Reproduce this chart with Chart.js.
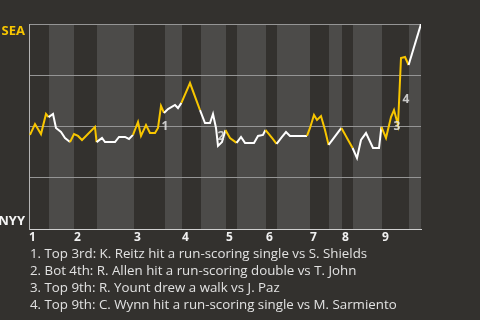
<!DOCTYPE html>
<html>
<head>
<meta charset="utf-8">
<script src="https://cdn.jsdelivr.net/npm/chart.js@4/dist/chart.umd.min.js"></script>
<style>
  html, body { margin:0; padding:0; background:#33312e; width:480px; height:320px; overflow:hidden; }
  #wrap { position:absolute; left:0; top:0; width:480px; height:245px; }
  #notes { position:absolute; left:30px; top:245px; color:#e2e2e2; font-family:"Open Sans", sans-serif; line-height:17px; white-space:nowrap; }
</style>
</head>
<body>
<div id="wrap"><canvas id="c"></canvas></div>
<div id="notes"></div>
<script>
// ---- data ----
const teams = ['NYY', 'SEA'];                 // bottom, top of y axis
const inningLabels = ['1','2','3','4','5','6','7','8','9'];
// half-inning start positions (play index): top1, bot1, top2, bot2, ...
const halfStarts = [0, 5, 11.25, 17, 26.25, 34, 38.25, 43, 49.25, 52, 59.25, 62, 70.25, 75, 78.25, 81, 88.25, 95];
const gameEnd = 98;
// play index and SEA win probability
const playX = [0.25, 1.5, 3, 4.25, 4.9, 6, 6.75, 8, 9, 10.25, 11.25, 12.25, 13.25, 16.5, 16.9, 18.25, 19, 21.5, 22.5, 24, 25, 26,
  27.25, 28, 29.25, 30.25, 31.5, 32.25, 33, 33.75, 34.75, 36.5, 37.25, 38.1, 40.25, 42.75, 44, 45.25, 46, 46.75, 47.25, 48.25,
  49.1, 50.25, 51.9, 53, 54, 56.25, 57.25, 58.5, 59.1, 60.75, 61.9, 63.25, 64.25, 65.25, 69.5, 70.25, 71.25, 72, 73, 74, 74.9,
  78.1, 80.9, 82, 83, 84.25, 86, 87.5, 88.1, 89.25, 90.5, 91.25, 92.25, 93, 94, 94.9, 98];
const seaWinProb = [0.459, 0.512, 0.463, 0.561, 0.546, 0.561, 0.493, 0.473, 0.444, 0.424, 0.463, 0.454, 0.434, 0.498, 0.424, 0.444, 0.424, 0.424, 0.449, 0.449, 0.439, 0.459,
  0.522, 0.454, 0.507, 0.468, 0.468, 0.493, 0.600, 0.566, 0.585, 0.605, 0.590, 0.615, 0.712, 0.580, 0.517, 0.517, 0.561, 0.493, 0.405, 0.424,
  0.483, 0.444, 0.420, 0.449, 0.420, 0.420, 0.454, 0.459, 0.483, 0.444, 0.415, 0.449, 0.473, 0.454, 0.454, 0.493, 0.556, 0.532, 0.551, 0.483, 0.410,
  0.493, 0.395, 0.346, 0.434, 0.468, 0.395, 0.395, 0.498, 0.444, 0.546, 0.580, 0.507, 0.834, 0.839, 0.800, 1.0];
// key-play markers: number, position
const markerNums = ['1', '2', '3', '4'];
const markerX = [34, 48, 92, 94.25];
const markerY = [0.502, 0.449, 0.502, 0.629];
const notes = [
  '1. Top 3rd: K. Reitz hit a run-scoring single vs S. Shields',
  '2. Bot 4th: R. Allen hit a run-scoring double vs T. John',
  '3. Top 9th: R. Yount drew a walk vs J. Paz',
  '4. Top 9th: C. Wynn hit a run-scoring single vs M. Sarmiento'
];

// ---- styles ----
const BG = '#33312e', BAND = '#4c4b49', YELLOW = '#f8c600', WHITE = '#ffffff';
const FONT = '"Open Sans", sans-serif';

function halfIndex(x) {
  let h = 0;
  for (let i = 0; i < halfStarts.length; i++) if (x >= halfStarts[i]) h = i;
  return h;
}

const bandsPlugin = {
  id: 'bands',
  beforeDraw(chart) {
    const {ctx, chartArea: a, scales: {x}} = chart;
    ctx.save();
    ctx.fillStyle = BG;
    ctx.fillRect(0, 0, chart.width, chart.height);
    for (let i = 0; i < halfStarts.length; i++) {
      const x0 = x.getPixelForValue(halfStarts[i]);
      const x1 = x.getPixelForValue(i + 1 < halfStarts.length ? halfStarts[i + 1] : gameEnd);
      ctx.fillStyle = (i % 2 === 1) ? BAND : BG;
      ctx.fillRect(x0, a.top, x1 - x0, a.bottom - a.top);
    }
    ctx.restore();
  },
  afterDraw(chart) {
    const {ctx, scales: {x, y}} = chart;
    ctx.save();
    // team labels at the ends of the y axis
    ctx.font = 'bold 13px ' + FONT;
    ctx.textAlign = 'right';
    ctx.textBaseline = 'middle';
    ctx.fillStyle = YELLOW;
    ctx.fillText(teams[1], y.right - 4, y.getPixelForValue(1) + 7);
    ctx.fillStyle = '#f5f5f5';
    ctx.fillText(teams[0], y.right - 4, y.getPixelForValue(0) - 8);
    // key-play markers
    ctx.font = 'bold 12px ' + FONT;
    ctx.fillStyle = 'rgba(228,228,228,0.85)';
    ctx.textAlign = 'center';
    markerNums.forEach((n, i) => ctx.fillText(n, x.getPixelForValue(markerX[i]), y.getPixelForValue(markerY[i])));
    ctx.restore();
  }
};

new Chart(document.getElementById('c'), {
  type: 'line',
  data: {
    datasets: [{
      data: playX.map((v, i) => ({x: v, y: seaWinProb[i]})),
      borderWidth: 2,
      pointRadius: 0,
      tension: 0,
      borderColor: WHITE,
      segment: {
        borderColor: c => (halfIndex(c.p1.parsed.x) % 2 === 0 ? YELLOW : WHITE)
      }
    }]
  },
  options: {
    responsive: true,
    maintainAspectRatio: false,
    animation: false,
    layout: { padding: { top: 24, right: 59, left: 0, bottom: 0 } },
    plugins: { legend: { display: false }, tooltip: { enabled: false } },
    scales: {
      x: {
        type: 'linear', min: 0, max: gameEnd,
        afterFit: s => { s.height = 16; },
        afterBuildTicks: s => { s.ticks = halfStarts.filter((v, i) => i % 2 === 0).map(v => ({value: v})); },
        grid: { display: false, drawTicks: false, tickLength: 0 },
        border: { display: true, color: '#cfcfcf', width: 1 },
        ticks: {
          autoSkip: false, maxRotation: 0, align: 'start', padding: 1,
          color: '#f0f0f0', font: { family: FONT, size: 12, weight: 'bold' },
          callback: (v, i) => inningLabels[i]
        }
      },
      y: {
        min: 0, max: 1,
        afterFit: s => { s.width = 29; },
        afterBuildTicks: s => { s.ticks = [0, 0.25, 0.5, 0.75, 1].map(v => ({value: v})); },
        grid: { color: '#959595', lineWidth: 1, drawTicks: false, tickLength: 0 },
        border: { display: true, color: '#b5b5b5', width: 1 },
        ticks: { display: false }
      }
    }
  },
  plugins: [bandsPlugin]
});

// notes below chart, sized so the longest line spans like the reference
const notesEl = document.getElementById('notes');
const mc = document.createElement('canvas').getContext('2d');
mc.font = '13px ' + FONT;
const w = mc.measureText(notes[3]).width;
const fs = Math.min(14, 13 * 367 / w);
notesEl.style.fontSize = fs.toFixed(2) + 'px';
notes.forEach(t => { const d = document.createElement('div'); d.textContent = t; notesEl.appendChild(d); });
</script>
</body>
</html>
